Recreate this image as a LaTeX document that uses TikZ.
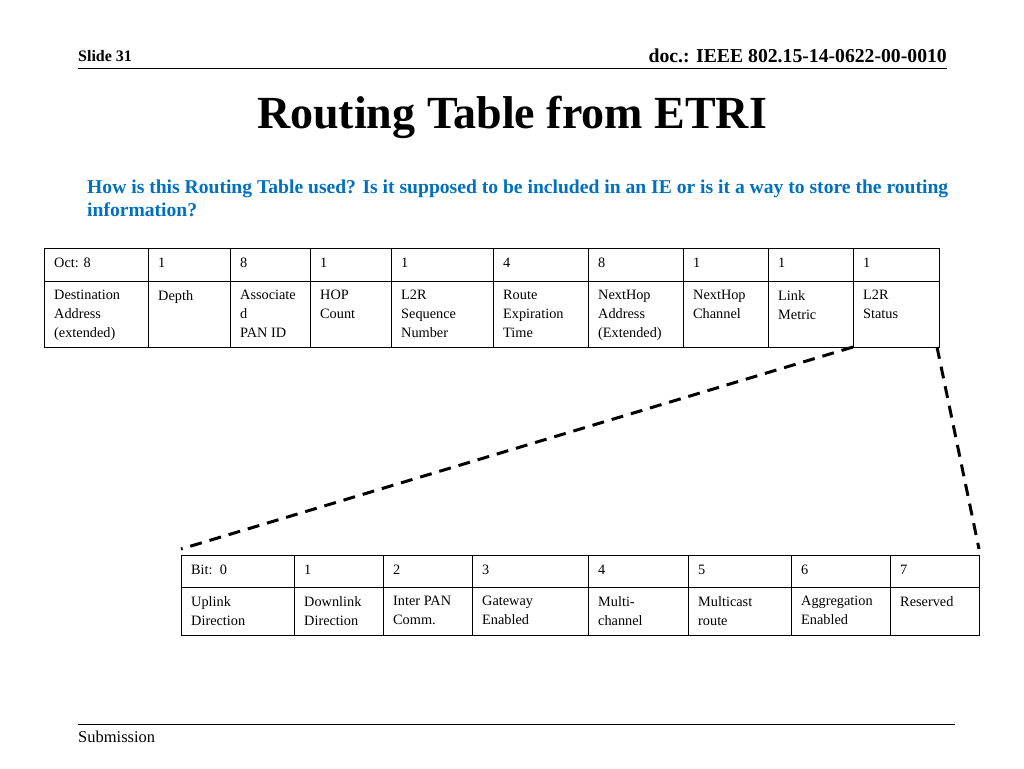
\documentclass[tikz,border=0pt]{standalone}
\usepackage{fontspec}
\setmainfont{Liberation Serif}
\definecolor{qblue}{RGB}{0,112,192}
\begin{document}
\begin{tikzpicture}[x=1pt,y=-1pt,
  cell/.style={anchor=north west,align=left,inner sep=0pt,font=\fontsize{14.3}{19}\selectfont},
  grid/.style={draw=black,line width=1pt}]
\useasboundingbox (0,0) rectangle (1024,768);
\node[anchor=base west,inner sep=0pt,font=\fontsize{16}{18}\selectfont\bfseries] (slide) at (78,61) {Slide 31};
\node[anchor=base east,inner sep=0pt,font=\fontsize{19.7}{21}\selectfont\bfseries] (doc) at (947,63) {doc.: IEEE 802.15-14-0622-00-0010};
\draw[line width=1pt] (78,68) -- (947,68);
\node[inner sep=0pt,font=\fontsize{46}{50}\selectfont\bfseries] (title) at (512,117) {Routing Table from ETRI};
\node[anchor=north west,align=left,inner sep=0pt,text=qblue,font=\fontsize{19.6}{23}\selectfont\bfseries] (q) at (87,180) {How is this Routing Table used? Is it supposed to be included in an IE or is it a way to store the routing\\information?};
% top table
\draw[grid] (44,248) rectangle (939,347);
\draw[grid] (44,281) -- (939,281);
\foreach \x in {148,230,310,391,493,588,683,768,853} \draw[grid] (\x,248) -- (\x,347);
\foreach \x/\a/\b in {44/Oct: 8/Destination\\Address\\(extended),148/1/Depth,230/8/Associate\\d\\PAN ID,310/1/HOP\\Count,391/1/L2R\\Sequence\\Number,493/4/Route\\Expiration\\Time,588/8/NextHop\\Address\\(Extended),683/1/NextHop\\Channel,768/1/Link\\Metric,853/1/L2R\\Status}{
  \node[cell] at (\x+10,258) {\a};
  \node[cell] at (\x+10,290) {\b};}
% bottom table
\draw[grid] (181,555) rectangle (979,635);
\draw[grid] (181,587) -- (979,587);
\foreach \x in {294,383,472,588,688,791,890} \draw[grid] (\x,555) -- (\x,635);
\foreach \x/\a/\b in {181/Bit:\ \ 0/Uplink\\Direction,294/1/Downlink\\Direction,383/2/Inter PAN\\Comm.,472/3/Gateway\\Enabled,588/4/Multi-\\channel,688/5/Multicast\\route,791/6/Aggregation\\Enabled,890/7/Reserved}{
  \node[cell] at (\x+10,565) {\a};
  \node[cell] at (\x+10,596) {\b};}
\coordinate (a1) at (853,347); \coordinate (a2) at (937,347);
\coordinate (b1) at (181,549); \coordinate (b2) at (979,549);
\draw[line width=3pt,dash pattern=on 12pt off 8pt] (a1) -- (b1);
\draw[line width=3pt,dash pattern=on 12pt off 8pt] (a2) -- (b2);
\draw[line width=1pt] (78,724) -- (955,724);
\node[anchor=base west,inner sep=0pt,font=\fontsize{16.5}{18}\selectfont] (sub) at (78,742) {Submission};
\end{tikzpicture}
\end{document}
